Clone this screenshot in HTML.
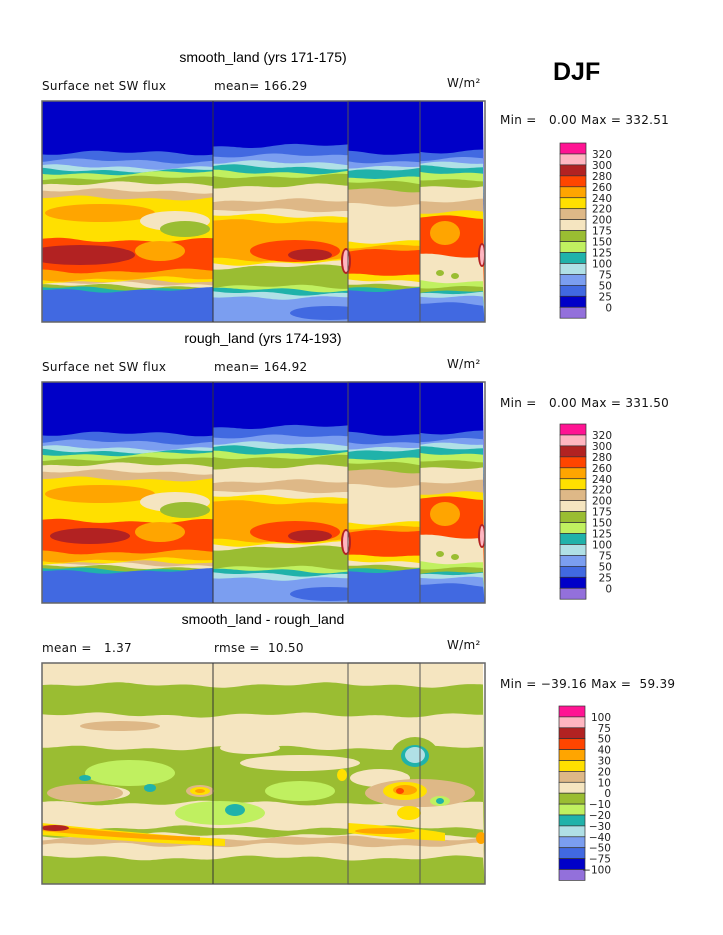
<!DOCTYPE html>
<html><head><meta charset="utf-8"><style>
html,body{margin:0;padding:0;background:#fff;width:723px;height:935px;overflow:hidden}
svg{display:block}
text{white-space:pre}
.t{font-family:"Liberation Sans",sans-serif;font-size:14px;fill:#000}
.s{font-family:"DejaVu Sans",sans-serif;font-size:12px;fill:#111;letter-spacing:0.3px;font-weight:normal}
.l{font-family:"DejaVu Sans",sans-serif;font-size:10.5px;fill:#222}
</style></head><body>
<svg id="sv" width="723" height="935" viewBox="0 0 723 935" xmlns="http://www.w3.org/2000/svg">
<defs>
<clipPath id="c1"><rect x="42" y="101" width="443" height="221"/></clipPath>
<clipPath id="c2"><rect x="42" y="382" width="443" height="221"/></clipPath>
<clipPath id="c3"><rect x="42" y="663" width="443" height="221"/></clipPath>
</defs>
<text class="t" x="263" y="62" text-anchor="middle">smooth_land (yrs 171-175)</text>
<text class="s" x="42" y="90" xml:space="preserve">Surface net SW flux</text>
<text class="s" x="214" y="90" xml:space="preserve">mean= 166.29</text>
<text class="s" x="447" y="87">W/m²</text>
<text x="553" y="80" style="font-family:'Liberation Sans',sans-serif;font-size:25px;font-weight:bold">DJF</text>
<text class="s" x="500" y="124" xml:space="preserve">Min =   0.00 Max = 332.51</text>

<text class="t" x="263" y="343" text-anchor="middle">rough_land (yrs 174-193)</text>
<text class="s" x="42" y="371" xml:space="preserve">Surface net SW flux</text>
<text class="s" x="214" y="371" xml:space="preserve">mean= 164.92</text>
<text class="s" x="447" y="368">W/m²</text>
<text class="s" x="500" y="407" xml:space="preserve">Min =   0.00 Max = 331.50</text>

<text class="t" x="263" y="624" text-anchor="middle">smooth_land - rough_land</text>
<text class="s" x="42" y="652" xml:space="preserve">mean =   1.37</text>
<text class="s" x="214" y="652" xml:space="preserve">rmse =  10.50</text>
<text class="s" x="447" y="649">W/m²</text>
<text class="s" x="500" y="688" xml:space="preserve">Min = −39.16 Max =  59.39</text>
<g id="g"></g>
</svg>
<script>
var C={db:"#0000c8",bl:"#4169e1",lb:"#7b9ef0",pb:"#b0e0e6",te:"#20b2aa",li:"#c0f060",gr:"#9abd32",cr:"#f5e5c0",ta:"#deb887",ye:"#ffe000",or:"#ffa500",ro:"#ff4500",dr:"#b22222",pk:"#ffb6c1",mg:"#ff1493",pu:"#9370db"};
var out="";
function band(x0,x1,top,stops,seed){
  for(var i=0;i<stops.length;i++){
    var y=top+stops[i][0],col=C[stops[i][1]];
    var d="M"+x0+","+(top+221);
    for(var x=x0;x<=x1;x+=3){
      var w=(i==0)?0:Math.sin(x*0.09+seed+i*1.7)*1.2+Math.sin(x*0.031+i)*1.5;
      d+=" L"+x+","+(y+w).toFixed(1);
    }
    d+=" L"+x1+","+(top+221)+"Z";
    out+='<path d="'+d+'" fill="'+col+'"/>';
  }
}
function el(cx,cy,rx,ry,c){out+='<ellipse cx="'+cx+'" cy="'+cy+'" rx="'+rx+'" ry="'+ry+'" fill="'+C[c]+'"/>';}
function sw(top,v,cid){
 out+='<g clip-path="url(#'+cid+')">';
 band(42,213,top,[[0,"db"],[52,"bl"],[60,"lb"],[66,"pb"],[69,"te"],[72,"li"],[77,"gr"],[83,"cr"],[90,"ta"],[97,"ye"],[139,"ro"],[170,"or"],[178,"ye"],[181,"ta"],[183,"cr"],[185,"gr"],[187,"te"],[189,"bl"]],1);
 el(100,top+112,55,9,"or"); el(175,top+120,35,10,"cr"); el(185,top+128,25,8,"gr");
 el(80+v*10,top+154,v?40:55,v?8:10,"dr"); el(160,top+150,25,10,"or");
 band(213,348,top,[[0,"db"],[45,"bl"],[55,"lb"],[62,"pb"],[66,"te"],[71,"li"],[75,"gr"],[85,"cr"],[100,"ta"],[110,"cr"],[115,"ye"],[120,"or"],[158,"ye"],[162,"cr"],[166,"gr"],[186,"li"],[189,"te"],[192,"pb"],[196,"lb"]],2);
 el(295,top+150,45,11,"ro"); el(310,top+154,22,6,"dr"); el(330,top+212,40,7,"bl");
 band(348,420,top,[[0,"db"],[52,"bl"],[60,"lb"],[65,"pb"],[69,"te"],[78,"li"],[82,"gr"],[89,"ta"],[103,"cr"],[140,"ye"],[145,"or"],[150,"ro"],[175,"ye"],[180,"cr"],[183,"gr"],[186,"te"],[189,"bl"]],3);
 band(420,485,top,[[0,"db"],[50,"bl"],[58,"lb"],[63,"pb"],[67,"te"],[72,"li"],[78,"gr"],[85,"cr"],[100,"ta"],[112,"ye"],[117,"ro"],[155,"cr"],[180,"li"],[185,"gr"],[190,"te"],[193,"pb"],[197,"lb"],[203,"bl"]],4);
 el(445,top+132,15,12,"or"); el(440,top+172,4,3,"gr"); el(455,top+175,4,3,"gr");
 el(346,top+160,5,13,"dr"); el(346,top+160,3,11,"pk");
 el(482,top+154,4,12,"dr"); el(482,top+154,2,10,"pk");
 out+='</g>';
}
function diff(top){
 out+='<g clip-path="url(#c3)">';
 band(42,485,top,[[0,"cr"],[22,"gr"],[52,"cr"],[85,"gr"],[140,"cr"],[165,"gr"],[172,"cr"],[175,"ta"],[182,"cr"],[195,"gr"]],5);
 el(120,top+63,40,5,"ta"); el(90,top+130,40,8,"cr"); el(300,top+100,60,8,"cr"); el(250,top+85,30,6,"cr");
 el(380,top+115,30,9,"cr"); el(130,top+110,45,13,"li"); el(220,top+150,45,12,"li"); el(300,top+128,35,10,"li");
 el(85,top+130,38,9,"ta"); el(420,top+130,55,14,"ta");
 el(200,top+128,14,6,"ta"); el(200,top+128,10,4,"ye"); el(200,top+128,5,2,"or");
 el(235,top+147,10,6,"te"); el(150,top+125,6,4,"te"); el(85,top+115,6,3,"te");
 out+='<path d="M42,'+(top+160)+' Q150,'+(top+172)+' 225,'+(top+176)+' L225,'+(top+183)+' Q150,'+(top+180)+' 42,'+(top+172)+'Z" fill="'+C.ye+'"/>';
 out+='<path d="M42,'+(top+162)+' Q140,'+(top+172)+' 200,'+(top+174)+' L200,'+(top+178)+' Q140,'+(top+177)+' 42,'+(top+168)+'Z" fill="'+C.or+'"/>';
 el(55,top+165,14,3,"dr");
 out+='<path d="M348,'+(top+160)+' Q420,'+(top+165)+' 445,'+(top+170)+' L445,'+(top+178)+' Q400,'+(top+176)+' 348,'+(top+170)+'Z" fill="'+C.ye+'"/>';
 el(385,top+168,30,3,"or"); el(405,top+128,22,9,"ye"); el(405,top+127,12,5,"or"); el(400,top+128,4,3,"ro");
 el(415,top+93,24,19,"gr"); el(415,top+93,14,11,"te"); el(415,top+92,10,8,"pb");
 el(440,top+138,10,5,"li"); el(440,top+138,4,3,"te");
 el(409,top+150,12,7,"ye"); el(342,top+112,5,6,"ye"); el(481,top+175,5,6,"or");
 out+='</g>';
}
sw(101,0,"c1"); sw(382,1,"c2"); diff(663);
[101,382,663].forEach(function(t){
 out+='<rect x="42" y="'+t+'" width="443" height="221" fill="none" stroke="#666" stroke-width="1.5"/>';
 [213,348,420].forEach(function(x){out+='<line x1="'+x+'" y1="'+t+'" x2="'+x+'" y2="'+(t+221)+'" stroke="#333" stroke-width="1"/>';});
 out+='<rect x="348" y="'+t+'" width="72" height="221" fill="none" stroke="#555"/>';
});
function leg(x,top,h,labels){
 var cols=["mg","pk","dr","ro","or","ye","ta","cr","gr","li","te","pb","lb","bl","db","pu"];
 for(var i=0;i<16;i++){out+='<rect x="'+x+'" y="'+(top+i*h)+'" width="26" height="'+h+'" fill="'+C[cols[i]]+'" stroke="#333" stroke-width="0.7"/>';}
 for(var i=0;i<labels.length;i++){out+='<text class="l" x="'+(x+52)+'" y="'+(top+(i+1)*h+4)+'" text-anchor="end">'+labels[i]+'</text>';}
}
var L1=["320","300","280","260","240","220","200","175","150","125","100","75","50","25","0"];
leg(560,143,10.95,L1); leg(560,424,10.95,L1);
leg(559,706,10.9,["100","75","50","40","30","20","10","0","−10","−20","−30","−40","−50","−75","−100"]);
document.getElementById("g").innerHTML=out;
</script>
</body></html>
